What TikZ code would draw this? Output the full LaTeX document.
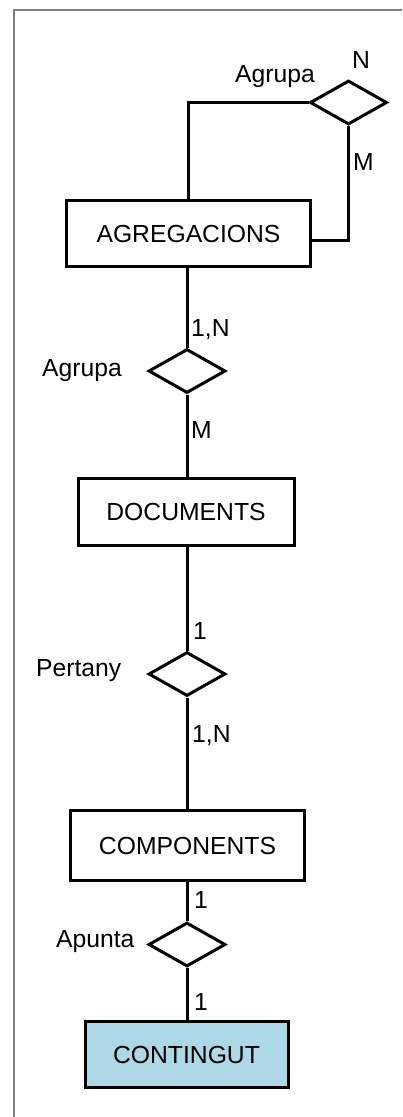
\documentclass[tikz,border=0pt]{standalone}
\usepackage{fontspec}
\setmainfont{Liberation Sans}
\usetikzlibrary{shapes.geometric}
\begin{document}
\begin{tikzpicture}[x=1pt,y=-1pt,
  ent/.style={draw, line width=3pt, inner sep=0pt, font=\fontsize{24.7}{28}\selectfont},
  rel/.style={draw, diamond, line width=3pt, inner sep=0pt, minimum width=77pt, minimum height=44pt},
  lbl/.style={inner sep=0pt, anchor=base west, font=\fontsize{24.7}{28}\selectfont},
  conn/.style={line width=3pt},
  framel/.style={draw=gray, line width=1.5pt}]
\useasboundingbox (0,0) rectangle (402,1117);
% frame
\coordinate (fa) at (14,1117);
\coordinate (fb) at (14,10);
\coordinate (fc) at (402,10);
\draw[framel] (fa) -- (fb) -- (fc);
% entities
\node[ent, minimum width=244pt, minimum height=66pt] (agr) at (188.5,233.5) {AGREGACIONS};
\node[ent, minimum width=216pt, minimum height=67pt] (doc) at (186,512) {DOCUMENTS};
\node[ent, minimum width=234pt, minimum height=70pt] (comp) at (187.5,845.5) {COMPONENTS};
\node[ent, fill={rgb,255:red,173;green,216;blue,230}, minimum width=203pt, minimum height=66pt] (cont) at (186.5,1054.5) {CONTINGUT};
% relationships
\node[rel] (r1) at (348.5,102.5) {};
\node[rel] (r2) at (187,371) {};
\node[rel] (r3) at (187,674) {};
\node[rel] (r4) at (187,944.5) {};
% connectors
\draw[conn] (r1.west) -| (agr.north);
\draw[conn] (r1.south) |- ([yshift=-6.5pt]agr.east);
\draw[conn] (r2.north) -- (r2.north |- agr.south);
\draw[conn] (r2.south) -- (r2.south |- doc.north);
\draw[conn] (r3.north) -- (r3.north |- doc.south);
\draw[conn] (r3.south) -- (r3.south |- comp.north);
\draw[conn] (r4.north) -- (r4.north |- comp.south);
\draw[conn] (r4.south) -- (r4.south |- cont.north);
% labels
\node[lbl] (l1) at (235,82) {Agrupa};
\node[lbl] (l2) at (352,68) {N};
\node[lbl] (l3) at (353,170) {M};
\node[lbl] (l4) at (42,376) {Agrupa};
\node[lbl] (l5) at (191,336) {1,N};
\node[lbl] (l6) at (191,438) {M};
\node[lbl] (l7) at (36,676) {Pertany};
\node[lbl] (l8) at (193,639) {1};
\node[lbl] (l9) at (192,742) {1,N};
\node[lbl] (l10) at (56,947) {Apunta};
\node[lbl] (l11) at (194,908) {1};
\node[lbl] (l12) at (194,1010) {1};
\end{tikzpicture}
\end{document}
